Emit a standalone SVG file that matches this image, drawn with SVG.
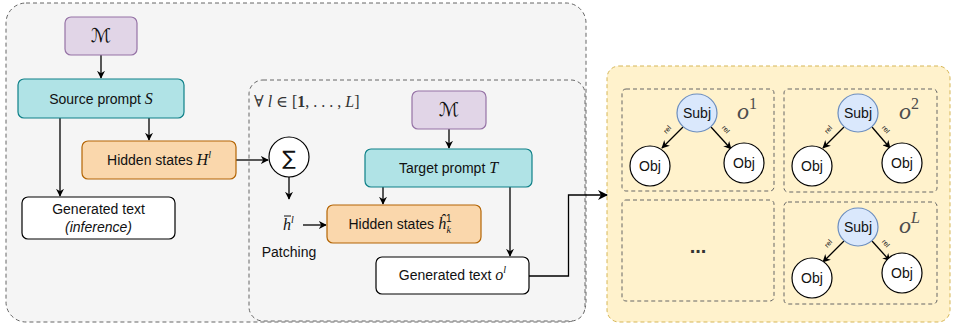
<svg xmlns="http://www.w3.org/2000/svg" width="954" height="326" viewBox="0 0 954 326">
<style>
text{font-family:"Liberation Sans",Arial,sans-serif;font-size:14px;fill:#111}
.m{font-family:"Liberation Serif","DejaVu Serif",serif;font-style:italic}
.cal{font-family:"DejaVu Sans","DejaVu Serif",serif;font-style:normal}
.sup{font-size:10px}
.node{stroke-width:1.2}
.purple{fill:#e1d5e7;stroke:#9673a6}
.teal{fill:#b0e3e6;stroke:#0e8088}
.orange{fill:#fad7ac;stroke:#b46504}
.white{fill:#fff;stroke:#000}
.dash{fill:none;stroke:#666;stroke-dasharray:4 3;stroke-width:1}
.edge{fill:none;stroke:#000;stroke-width:1.3}
.subj{fill:#dae8fc;stroke:#6c8ebf;stroke-width:1.2}
.obj{fill:#fff;stroke:#000;stroke-width:1.2}
.rel{font-size:7px}
.lab{font-family:"Liberation Serif","DejaVu Serif",serif;font-style:italic;fill:#4d4d4d}
</style>
<defs>
<marker id="ah" viewBox="0 0 10 10" refX="9" refY="5" markerWidth="8" markerHeight="8" orient="auto" markerUnits="userSpaceOnUse">
<path d="M0,0 L10,5 L0,10 L3,5 Z" fill="#000"/>
</marker>
<marker id="ahs" viewBox="0 0 10 10" refX="9" refY="5" markerWidth="10" markerHeight="10" orient="auto" markerUnits="userSpaceOnUse">
<path d="M0,0 L10,5 L0,10 L3,5 Z" fill="#000"/>
</marker>
</defs>

<g id="containers">
<rect x="6" y="3" width="580" height="319" rx="20" fill="#f5f5f5" stroke="#666" stroke-dasharray="4 3"/>
<rect x="249" y="80" width="336" height="241" rx="14" fill="#f5f5f5" stroke="#666" stroke-dasharray="4 3"/>
<text x="254" y="107" style="font-family:'Liberation Serif','DejaVu Serif',serif;font-size:16px;fill:#333">∀ <tspan font-style="italic">l</tspan> ∈ [<tspan font-weight="bold">1</tspan>, . . . , <tspan font-style="italic">L</tspan>]</text>
<rect x="607" y="66" width="343" height="256" rx="12" fill="#fff2cc" stroke="#d6b656" stroke-dasharray="4 3"/>
</g>

<g id="connectors">
<path class="edge" d="M101,55 V78" marker-end="url(#ah)"/>
<path class="edge" d="M149,118 V140" marker-end="url(#ah)"/>
<path class="edge" d="M60,118 V196" marker-end="url(#ah)"/>
<path class="edge" d="M236,160 H268" marker-end="url(#ah)"/>
<path class="edge" d="M289,177 V199" marker-end="url(#ah)"/>
<path class="edge" d="M303,225 H326" marker-end="url(#ah)"/>
<path class="edge" d="M449,129 V148" marker-end="url(#ah)"/>
<path class="edge" d="M383,187 V204" marker-end="url(#ah)"/>
<path class="edge" d="M510,187 V256" marker-end="url(#ah)"/>
<path class="edge" d="M529,276 H568.5 V195 H607" marker-end="url(#ahs)"/>
</g>

<g id="m1"><rect class="node purple" x="65" y="17" width="72" height="38" rx="6"/><text class="cal" x="101" y="42" text-anchor="middle" style="font-size:19px">ℳ</text></g>

<g id="source"><rect class="node teal" x="18" y="79" width="166" height="39" rx="6"/><text x="101" y="103.5" text-anchor="middle">Source prompt <tspan class="m" style="font-size:16px">S</tspan></text></g>

<g id="hidden1"><rect class="node orange" x="82" y="141" width="154" height="38" rx="6"/><text x="159" y="165" text-anchor="middle">Hidden states <tspan class="m" style="font-size:16px">H</tspan><tspan class="m sup" dy="-7">l</tspan></text></g>

<g id="gen1"><rect class="node white" x="22" y="197" width="153" height="42" rx="6"/><text x="98.5" y="214" text-anchor="middle">Generated text</text><text x="98.5" y="232" text-anchor="middle" font-style="italic">(inference)</text></g>

<g id="sum"><circle cx="289" cy="157" r="20" fill="#fff" stroke="#000" stroke-width="1.2"/><text x="289" y="164.5" text-anchor="middle" style="font-family:'DejaVu Sans',sans-serif;font-size:20px">∑</text></g>

<g id="hbar"><text class="m" x="283" y="230" style="font-size:16px">h<tspan class="sup" dy="-7">l</tspan></text><line x1="284" y1="216" x2="291" y2="216" stroke="#111" stroke-width="1"/><text x="289" y="257" text-anchor="middle">Patching</text></g>

<g id="m2"><rect class="node purple" x="412" y="91" width="74" height="38" rx="6"/><text class="cal" x="449" y="116" text-anchor="middle" style="font-size:19px">ℳ</text></g>

<g id="target"><rect class="node teal" x="365" y="149" width="167" height="38" rx="6"/><text x="448.5" y="173" text-anchor="middle">Target prompt <tspan class="m" style="font-size:16px">T</tspan></text></g>

<g id="hidden2"><rect class="node orange" x="327" y="205" width="154" height="38" rx="6"/><text x="400" y="229" text-anchor="middle">Hidden states <tspan class="m" style="font-size:16px">ĥ</tspan><tspan class="sup" dy="-7">1</tspan><tspan class="m sup" dx="-5" dy="11">k</tspan></text></g>

<g id="gen2"><rect class="node white" x="376" y="257" width="153" height="37" rx="6"/><text x="452.5" y="280" text-anchor="middle">Generated text <tspan class="m" style="font-size:16px">o</tspan><tspan class="m sup" dy="-7">l</tspan></text></g>

<g id="panel1">
<rect class="dash" x="622" y="89" width="152" height="102" rx="4"/>
<path class="edge" d="M683,127 L662,148" marker-end="url(#ah)"/>
<path class="edge" d="M711,127 L731,149" marker-end="url(#ah)"/>
<ellipse class="subj" cx="697" cy="113" rx="20" ry="19"/><text x="697" y="118" text-anchor="middle">Subj</text>
<circle class="obj" cx="650" cy="166" r="20"/><text x="650" y="171" text-anchor="middle">Obj</text>
<circle class="obj" cx="744" cy="163" r="20"/><text x="744" y="168" text-anchor="middle">Obj</text>
<text class="rel" transform="translate(669,131) rotate(-48)" text-anchor="middle">rel</text>
<text class="rel" transform="translate(724,131) rotate(48)" text-anchor="middle">rel</text>
<text class="lab" x="737" y="119" style="font-size:24px">o<tspan style="font-size:16px" font-style="normal" dy="-10">1</tspan></text>
</g>

<g id="panel2">
<rect class="dash" x="784" y="89" width="153" height="103" rx="4"/>
<path class="edge" d="M844,127 L823,148" marker-end="url(#ah)"/>
<path class="edge" d="M872,127 L890,148" marker-end="url(#ah)"/>
<ellipse class="subj" cx="858" cy="113" rx="20" ry="19"/><text x="858" y="118" text-anchor="middle">Subj</text>
<circle class="obj" cx="812" cy="166" r="20"/><text x="812" y="171" text-anchor="middle">Obj</text>
<circle class="obj" cx="902" cy="163" r="20"/><text x="902" y="168" text-anchor="middle">Obj</text>
<text class="rel" transform="translate(830,131) rotate(-48)" text-anchor="middle">rel</text>
<text class="rel" transform="translate(884,131) rotate(48)" text-anchor="middle">rel</text>
<text class="lab" x="899" y="119" style="font-size:24px">o<tspan style="font-size:16px" font-style="normal" dy="-10">2</tspan></text>
</g>

<g id="panel3">
<rect class="dash" x="622" y="200" width="152" height="101" rx="4"/>
<text x="698" y="253" text-anchor="middle" style="font-size:20px;font-weight:bold;fill:#333">...</text>
</g>

<g id="panel4">
<rect class="dash" x="784" y="202" width="153" height="102" rx="4"/>
<path class="edge" d="M844,241 L823,262" marker-end="url(#ah)"/>
<path class="edge" d="M872,241 L890,261" marker-end="url(#ah)"/>
<ellipse class="subj" cx="858" cy="227" rx="20" ry="19"/><text x="858" y="232" text-anchor="middle">Subj</text>
<circle class="obj" cx="812" cy="278" r="20"/><text x="812" y="283" text-anchor="middle">Obj</text>
<circle class="obj" cx="902" cy="273" r="20"/><text x="902" y="278" text-anchor="middle">Obj</text>
<text class="rel" transform="translate(830,245) rotate(-48)" text-anchor="middle">rel</text>
<text class="rel" transform="translate(884,245) rotate(48)" text-anchor="middle">rel</text>
<text class="lab" x="899" y="233" style="font-size:24px">o<tspan class="m" style="font-size:16px" dy="-10">L</tspan></text>
</g>
</svg>
